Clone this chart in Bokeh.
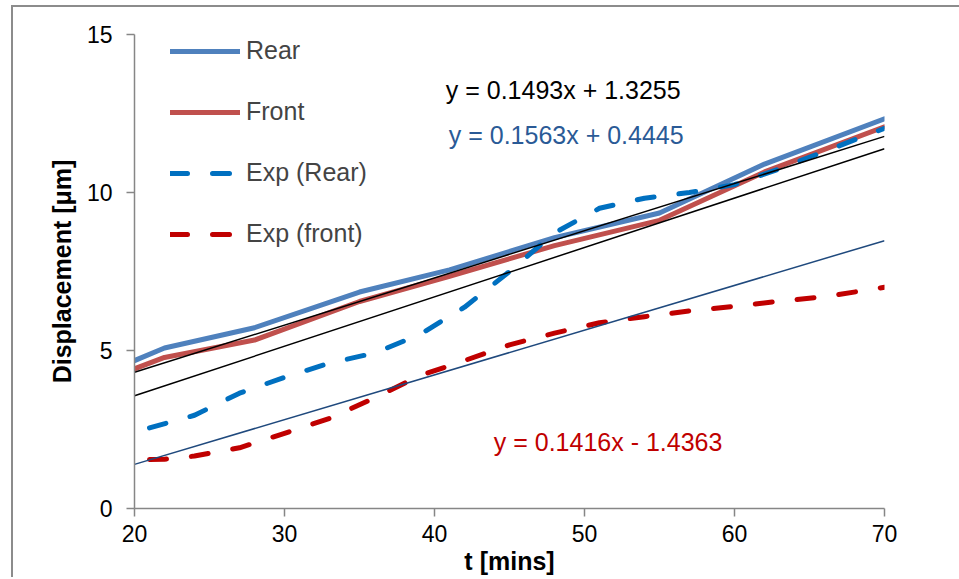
from bokeh.plotting import figure
from bokeh.models import Range1d, Legend, LegendItem, Label, FixedTicker
from bokeh.core.properties import value
from bokeh.embed import file_html
from bokeh.resources import INLINE

# ---- data ----
rear_t = [20, 22, 28, 35, 41, 48, 55, 62, 70]
rear_d = [4.68, 5.08, 5.72, 6.85, 7.55, 8.57, 9.35, 10.9, 12.33]

front_t = [20, 22, 28, 35, 41, 48, 55, 62, 70]
front_d = [4.42, 4.78, 5.33, 6.55, 7.35, 8.32, 9.12, 10.65, 12.08]

exp_rear_t = [21, 24, 27, 30, 33, 36, 39, 42, 45, 48, 51, 54, 57, 60, 63, 66, 70]
exp_rear_d = [2.55, 2.95, 3.65, 4.15, 4.6, 4.92, 5.5, 6.37, 7.5, 8.72, 9.5, 9.82, 10.0, 10.25, 10.75, 11.3, 12.03]

exp_front_t = [21, 22, 24, 27, 30, 33, 36, 39, 42, 45, 48, 51, 54, 57, 60, 63, 66, 70]
exp_front_d = [1.55, 1.56, 1.66, 1.92, 2.38, 2.85, 3.5, 4.2, 4.68, 5.18, 5.55, 5.88, 6.07, 6.25, 6.4, 6.56, 6.7, 7.0]

trend_slope = [0.1493, 0.1563, 0.1416]
trend_icept = [1.3255, 0.4445, -1.4363]
trend_labels = ["y = 0.1493x + 1.3255", "y = 0.1563x + 0.4445", "y = 0.1416x - 1.4363"]
trend_t = [20, 70]

x_ticks = [20, 30, 40, 50, 60, 70]
y_ticks = [0, 5, 10, 15]

FONT = "Liberation Sans"
AXIS_GRAY = "#868686"

p = figure(width=948, height=572, x_range=Range1d(20, 70), y_range=Range1d(0, 15),
           output_backend="svg", toolbar_location=None,
           min_border_left=121, min_border_right=77, min_border_top=27, min_border_bottom=71)
p.styles = {"margin-left": "11px", "margin-top": "5px",
            "border-left": "2px solid #8c8c8c", "border-top": "2px solid #8c8c8c"}

p.grid.visible = False
p.outline_line_color = None
p.background_fill_color = "white"
p.border_fill_color = "white"

for ax in (p.xaxis[0], p.yaxis[0]):
    ax.axis_line_color = AXIS_GRAY
    ax.axis_line_width = 1.5
    ax.major_tick_line_color = AXIS_GRAY
    ax.major_tick_line_width = 1.5
    ax.major_tick_out = 8
    ax.major_tick_in = 0
    ax.minor_tick_line_color = None
    ax.major_label_text_font = FONT
    ax.major_label_text_font_size = "23px"
    ax.major_label_text_color = "black"
    ax.axis_label_text_font = FONT
    ax.axis_label_text_font_size = "25px"
    ax.axis_label_text_font_style = "bold"
    ax.axis_label_text_color = "black"

p.xaxis.ticker = FixedTicker(ticks=x_ticks)
p.yaxis.ticker = FixedTicker(ticks=y_ticks)
p.xaxis.axis_label = "t [mins]"
p.yaxis.axis_label = "Displacement [\u03bcm]"
p.xaxis.major_label_standoff = 8
p.yaxis.major_label_standoff = 14
p.xaxis.axis_label_standoff = 2
p.yaxis.axis_label_standoff = 8

r_rear = p.line(rear_t, rear_d, line_color="#4F81BD", line_width=5, line_join="round", line_cap="round")
r_front = p.line(front_t, front_d, line_color="#C0504D", line_width=5, line_join="round", line_cap="round")
r_er = p.line(exp_rear_t, exp_rear_d, line_color="#0070C0", line_width=5, line_dash="17 25",
              line_join="round", line_cap="round")
r_ef = p.line(exp_front_t, exp_front_d, line_color="#C00000", line_width=5, line_dash="17 25",
              line_join="round", line_cap="round")

trend_colors = ["black", "black", "#1F497D"]
for s, b, c in zip(trend_slope, trend_icept, trend_colors):
    p.line(trend_t, [s * t + b for t in trend_t], line_color=c, line_width=1.5)

label_colors = ["black", "#2A5A96", "#C00000"]
label_pos = [(40.75, 13.24), (40.95, 11.81), (43.95, 2.09)]
for txt, c, (lx, ly) in zip(trend_labels, label_colors, label_pos):
    p.add_layout(Label(x=lx, y=ly, text=txt, text_color=c, text_font=FONT,
                       text_font_size="25px", text_baseline="middle", text_align="left"))

legend = Legend(items=[LegendItem(label="Rear", renderers=[r_rear]),
                       LegendItem(label="Front", renderers=[r_front]),
                       LegendItem(label="Exp (Rear)", renderers=[r_er]),
                       LegendItem(label="Exp (front)", renderers=[r_ef])],
                location=(36, 260), orientation="vertical")
legend.border_line_color = None
legend.background_fill_alpha = 0
legend.padding = 0
legend.margin = 0
legend.glyph_width = 70
legend.glyph_height = 28
legend.label_height = 28
legend.spacing = 32
legend.label_standoff = 6
legend.label_text_font = FONT
legend.label_text_font_size = "25px"
legend.label_text_baseline = "middle"
p.add_layout(legend)

open("out.html", "w").write(file_html(p, INLINE))
